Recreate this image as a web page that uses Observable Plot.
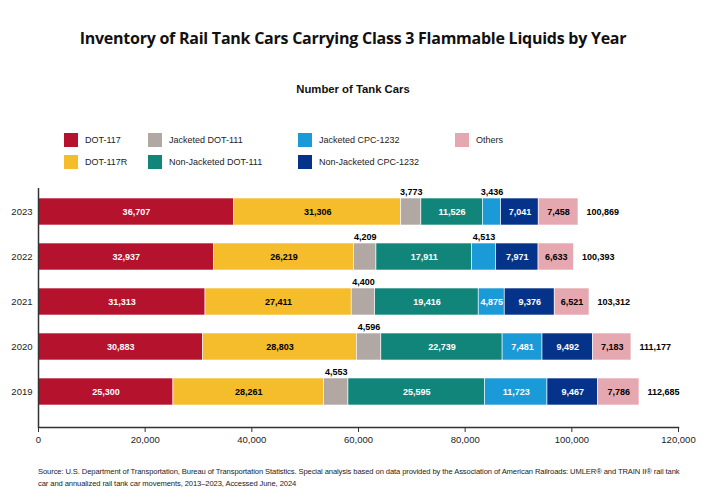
<!DOCTYPE html>
<html>
<head>
<meta charset="utf-8">
<script src="https://cdn.jsdelivr.net/npm/d3@7"></script>
<script src="https://cdn.jsdelivr.net/npm/@observablehq/plot@0.6"></script>
<style>
  html, body { margin: 0; padding: 0; background: #fff; }
  #page { position: relative; width: 706px; height: 500px; overflow: hidden; font-family: "Liberation Sans", Arial, sans-serif; }
  #title { position: absolute; left: 0; width: 706px; top: 27px; text-align: center; font-family: "Open Sans", sans-serif; font-weight: 700; font-size: 16px; letter-spacing: -0.25px; color: #111; }
  #subtitle { position: absolute; left: 0; width: 706px; top: 83px; text-align: center; font-weight: 700; font-size: 11.3px; color: #111; }
  .leg { position: absolute; display: flex; align-items: center; font-size: 9px; color: #222; }
  .sw { width: 14px; height: 14px; margin-right: 7px; }
  #chart { position: absolute; left: 0; top: 180px; }
  #source { position: absolute; left: 38px; top: 466px; width: 651px; font-size: 7.6px; letter-spacing: -0.1px; line-height: 12px; color: #222; }
</style>
</head>
<body>
<div id="page">
  <div id="title">Inventory of Rail Tank Cars Carrying Class 3 Flammable Liquids by Year</div>
  <div id="subtitle">Number of Tank Cars</div>
  <div id="legend"></div>
  <div id="chart"></div>
  <div id="source">Source: U.S. Department of Transportation, Bureau of Transportation Statistics. Special analysis based on data provided by the Association of American Railroads: UMLER® and TRAIN II® rail tank car and annualized rail tank car movements, 2013–2023, Accessed June, 2024</div>
</div>
<script>
const years = ["2023", "2022", "2021", "2020", "2019"];
const types = ["DOT-117", "DOT-117R", "Jacketed DOT-111", "Non-Jacketed DOT-111", "Jacketed CPC-1232", "Non-Jacketed CPC-1232", "Others"];
const dot117 = [36707, 32937, 31313, 30883, 25300];
const dot117R = [31306, 26219, 27411, 28803, 28261];
const jacketedDot111 = [3773, 4209, 4400, 4596, 4553];
const nonJacketedDot111 = [11526, 17911, 19416, 22739, 25595];
const jacketedCpc1232 = [3436, 4513, 4875, 7481, 11723];
const nonJacketedCpc1232 = [7041, 7971, 9376, 9492, 9467];
const others = [7458, 6633, 6521, 7183, 7786];
const totals = [100869, 100393, 103312, 111177, 112685];
const xTicks = [0, 20000, 40000, 60000, 80000, 100000, 120000];

const colors = ["#b5122e", "#f5bc2b", "#b1a8a3", "#12857a", "#1b9ad8", "#06338a", "#e6a8b0"];
const whiteText = ["DOT-117", "Non-Jacketed DOT-111", "Jacketed CPC-1232", "Non-Jacketed CPC-1232"];
const labelAbove = {"Jacketed DOT-111": years, "Jacketed CPC-1232": ["2023", "2022"]};

const series = [dot117, dot117R, jacketedDot111, nonJacketedDot111, jacketedCpc1232, nonJacketedCpc1232, others];
const data = [];
types.forEach((t, i) => years.forEach((y, j) => data.push({type: t, year: y, value: series[i][j]})));
const isAbove = d => (labelAbove[d.type] || []).includes(d.year);
const fmt = d3.format(",");
const ends = years.map((y, j) => ({year: y, end: d3.sum(series, s => s[j]), total: totals[j]}));

// legend
const legendPos = [[64, 133], [64, 155], [148, 133], [148, 155], [298, 133], [298, 155], [455, 133]];
const legend = document.getElementById("legend");
types.forEach((t, i) => {
  const el = document.createElement("div");
  el.className = "leg";
  el.style.left = legendPos[i][0] + "px";
  el.style.top = legendPos[i][1] + "px";
  el.innerHTML = `<div class="sw" style="background:${colors[i]}"></div><span>${t}</span>`;
  legend.appendChild(el);
});

const chart = Plot.plot({
  width: 706,
  height: 272,
  marginTop: 8,
  marginBottom: 25,
  marginLeft: 38,
  marginRight: 28,
  style: {fontFamily: "Liberation Sans, Arial, sans-serif", fontSize: "10px", color: "#222", background: "#fff"},
  x: {domain: [0, 120000], ticks: xTicks, tickFormat: fmt, label: null},
  y: {domain: years, range: [7.9, 235.4], paddingInner: 0.4, paddingOuter: 0.2, label: null},
  color: {domain: types, range: colors},
  marks: [
    Plot.barX(data, Plot.stackX({x: "value", y: "year", z: "type", fill: "type", stroke: "white", strokeWidth: 0.6, order: null})),
    Plot.ruleX([0], {stroke: "#333", strokeWidth: 1.5}),
    Plot.frame({anchor: "bottom", stroke: "#333", strokeWidth: 1.5}),
    Plot.axisX({ticks: xTicks, tickFormat: fmt, tickSize: 5, tickPadding: 4, fontSize: 9.5, stroke: "#333", label: null}),
    Plot.axisY({tickSize: 0, tickPadding: 6, fontSize: 9.5, label: null}),
    Plot.text(data, Plot.stackX({
      x: "value", y: "year", z: "type", order: null,
      text: d => isAbove(d) ? "" : fmt(d.value),
      fill: d => whiteText.includes(d.type) ? "white" : "black",
      fontWeight: "bold", fontSize: 9
    })),
    Plot.text(data, Plot.stackX({
      x: "value", y: "year", z: "type", order: null,
      text: d => isAbove(d) ? fmt(d.value) : "",
      fill: "black", fontWeight: "bold", fontSize: 9, dy: -19.5
    })),
    Plot.text(ends, {x: "end", y: "year", text: d => fmt(d.total), textAnchor: "start", dx: 8, fill: "black", fontWeight: "bold", fontSize: 9})
  ]
});
document.getElementById("chart").appendChild(chart);
</script>
</body>
</html>
